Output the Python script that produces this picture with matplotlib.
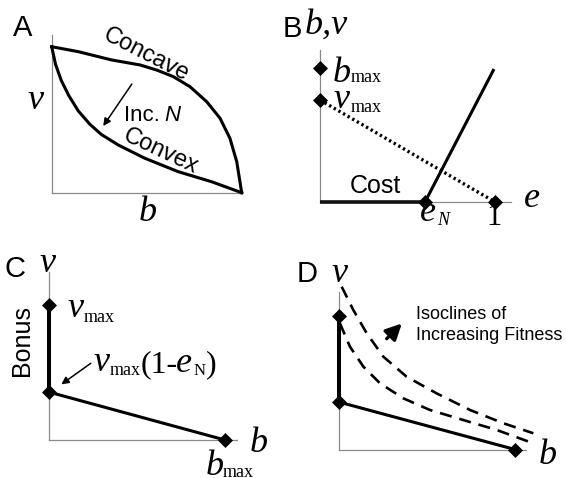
import matplotlib
matplotlib.use("Agg")
import matplotlib.pyplot as plt

W, H = 566, 478
SANS = "Liberation Sans"
SERIF = "Liberation Serif"
AXIS_GREY = "#8a8a8a"

# ---- panel A: trade-off curves (b on x, v on y, both scaled to 1)
concave_b = [0, 0.14, 0.316, 0.465, 0.553, 0.64, 0.728, 0.816, 0.886, 0.938, 0.974, 1.0]
concave_v = [1.0, 0.966, 0.909, 0.875, 0.84, 0.795, 0.726, 0.623, 0.51, 0.373, 0.212, 0.0]
convex_b = [0, 0.02, 0.05, 0.09, 0.14, 0.2, 0.26, 0.35, 0.49, 0.666, 0.842, 1.0]
convex_v = [1.0, 0.88, 0.77, 0.665, 0.56, 0.47, 0.40, 0.327, 0.236, 0.144, 0.075, 0.0]
arrow_a = [(0.43, 0.76), (0.263, 0.441)]

# ---- panel B: benefit / bonus vs effort e
e_N = 0.6
b_max = 1.31
v_max = 1.0
benefit_e = [e_N, 0.99]
benefit_b = [0, 1.29]
bonus_e = [0, 1.0]
bonus_v = [v_max, 0]
cost_e = [0, e_N]
cost_y = [0, 0]
diam_b_x = [0, 0, e_N, 1.0]
diam_b_y = [b_max, v_max, 0, 0]

# ---- panel C: achievable (b, v) frontier
front_b = [0, 0, 1.0]
front_v = [1.0, 0.355, 0.0]
arrow_c = [(0.25, 0.58), (0.057, 0.40)]

# ---- panel D: frontier plus two fitness isoclines
iso_hi_b = [0.018, 0.084, 0.16, 0.254, 0.386, 0.556, 0.745, 0.934, 1.104]
iso_hi_v = [1.215, 1.041, 0.867, 0.693, 0.543, 0.419, 0.295, 0.196, 0.121]
iso_lo_b = [0.008, 0.065, 0.141, 0.235, 0.367, 0.518, 0.707, 0.896, 1.104]
iso_lo_v = [0.942, 0.767, 0.618, 0.494, 0.382, 0.295, 0.220, 0.146, 0.046]
arrow_d = [(0.262, 0.812), (0.37, 0.955)]

fig = plt.figure(figsize=(W / 100, H / 100), dpi=100)


def panel(ox, oy, ux, uy):
    # full-figure axes whose data origin sits at pixel (ox, oy)
    ax = fig.add_axes([0, 0, 1, 1])
    ax.set_xlim(-ox / ux, (W - ox) / ux)
    ax.set_ylim(-(H - oy) / uy, oy / uy)
    ax.axis("off")
    ax.patch.set_alpha(0)
    return ax


def put(x, y, s, size, family=SANS, style="normal", **kw):
    fig.text(x / W, 1 - y / H, s, fontsize=size, family=family,
             style=style, va=kw.pop("va", "baseline"), **kw)


def axes_lines(ax, xmax, ymax):
    ax.plot([0, xmax], [0, 0], color=AXIS_GREY, lw=0.9, zorder=1)
    ax.plot([0, 0], [0, ymax], color=AXIS_GREY, lw=0.9, zorder=1)


def diamonds(ax, x, y):
    ax.plot(x, y, "D", color="k", ms=7, mew=0.5, zorder=5, clip_on=False)


BIG = 26   # italic single letters
SUB = 13   # "max" / "N" subscripts
LET = 21   # panel letters

# A
ax = panel(51.7, 192.7, 190, 146)
axes_lines(ax, 1.0, 1.08)
ax.plot(concave_b, concave_v, color="k", lw=2.2, solid_joinstyle="round")
ax.plot(convex_b, convex_v, color="k", lw=2.2, solid_joinstyle="round")
ax.annotate("", xy=arrow_a[1], xytext=arrow_a[0],
            arrowprops=dict(arrowstyle="-|>", color="k", lw=1.1, mutation_scale=11))
put(13, 36, "A", LET)
put(27, 109, "v", BIG, SERIF, "italic")
put(139, 221, "b", BIG, SERIF, "italic")
put(146, 55, "Concave", 17, rotation=-27, ha="center", va="center", rotation_mode="anchor")
put(161, 151, "Convex", 17, rotation=-25, ha="center", va="center", rotation_mode="anchor")
put(124, 121, "Inc. ", 16)
put(164, 121, "N", 16, style="italic")

# B
ax = panel(320, 202, 175, 102)
axes_lines(ax, 1.09, 1.49)
ax.plot(cost_e, cost_y, color="#111111", lw=2.6, solid_capstyle="butt", zorder=3)
ax.plot(benefit_e, benefit_b, color="k", lw=2.2, zorder=3)
ax.plot(bonus_e, bonus_v, color="k", lw=2.4, ls=(0, (0.7, 0.9)), zorder=3)
diamonds(ax, diam_b_x, diam_b_y)
put(283, 37, "B", LET)
put(305, 34, "b,v", BIG, SERIF, "italic")
put(333, 82, "b", BIG, SERIF, "italic")
put(351, 82, "max", SUB, SERIF)
put(334, 108, "v", BIG, SERIF, "italic")
put(351, 112, "max", SUB, SERIF)
put(350, 193, "Cost", 18)
put(524, 207, "e", BIG, SERIF, "italic")
put(420, 221, "e", BIG, SERIF, "italic")
put(437, 225, "N", SUB, SERIF, "italic")
put(494, 225, "1", 22, SERIF, ha="center")

# C
ax = panel(49, 440, 176, 135)
axes_lines(ax, 1.067, 1.244)
ax.plot(front_b[:2], front_v[:2], color="k", lw=2.9, solid_capstyle="butt", zorder=3)
ax.plot(front_b[1:], front_v[1:], color="k", lw=2.2, zorder=3)
diamonds(ax, front_b, front_v)
ax.annotate("", xy=arrow_c[1], xytext=arrow_c[0],
            arrowprops=dict(arrowstyle="-|>", color="k", lw=1.1, mutation_scale=11))
put(4, 277, "C", LET)
put(40, 272, "v", BIG, SERIF, "italic")
put(67, 317, "v", BIG, SERIF, "italic")
put(84, 322, "max", SUB, SERIF)
put(22, 340, "Bonus", 18, rotation=90, ha="center", va="center")
put(93, 371, "v", BIG, SERIF, "italic")
put(110, 375, "max", SUB, SERIF)
put(141, 372, "(1-", 23, SERIF)
put(176, 372, "e", BIG, SERIF, "italic")
put(194, 375, "N", 12, SERIF)
put(206, 372, ")", 23, SERIF)
put(250, 452, "b", BIG, SERIF, "italic")
put(206, 475, "b", BIG, SERIF, "italic")
put(223, 477, "max", SUB, SERIF)

# D
ax = panel(338.5, 449.5, 176.5, 134)
axes_lines(ax, 1.062, 1.175)
ax.plot(front_b[:2], front_v[:2], color="k", lw=2.9, solid_capstyle="butt", zorder=3)
ax.plot(front_b[1:], front_v[1:], color="k", lw=2.2, zorder=3)
diamonds(ax, front_b, front_v)
ax.plot(iso_hi_b, iso_hi_v, color="k", lw=1.9, ls=(0, (4.6, 3.0)), zorder=2)
ax.plot(iso_lo_b, iso_lo_v, color="k", lw=1.9, ls=(0, (4.6, 3.0)), zorder=2)
ax.annotate("", xy=arrow_d[1], xytext=arrow_d[0],
            arrowprops=dict(arrowstyle="-|>", color="k", lw=2.4, mutation_scale=24))
put(297, 282, "D", LET)
put(331, 282, "v", BIG, SERIF, "italic")
put(416, 319, "Isoclines of", 13)
put(416, 340, "Increasing Fitness", 13)
put(539, 464, "b", BIG, SERIF, "italic")

fig.savefig("out.png", dpi=100)
